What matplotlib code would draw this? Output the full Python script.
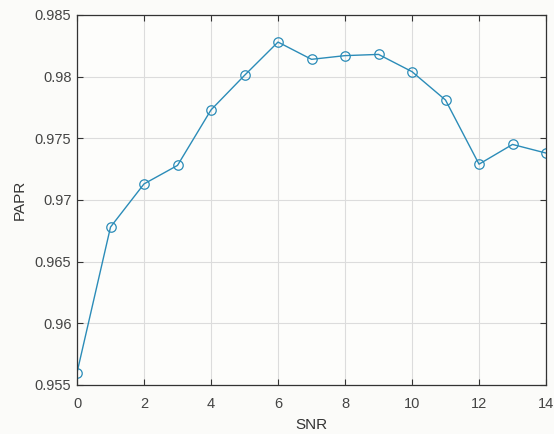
import matplotlib
matplotlib.use("Agg")
import matplotlib.pyplot as plt

snr = [0, 1, 2, 3, 4, 5, 6, 7, 8, 9, 10, 11, 12, 13, 14]
papr = [0.9560, 0.9678, 0.9713, 0.9728, 0.9773, 0.9801, 0.9828, 0.9814,
        0.9817, 0.9818, 0.9804, 0.9781, 0.9729, 0.9745, 0.9738]
xticks = [0, 2, 4, 6, 8, 10, 12, 14]
yticks = [0.955, 0.96, 0.965, 0.97, 0.975, 0.98, 0.985]
ytick_labels = ["0.955", "0.96", "0.965", "0.97", "0.975", "0.98", "0.985"]

plt.rcParams['font.family'] = ['Liberation Sans', 'DejaVu Sans']

fig = plt.figure(figsize=(5.54, 4.34), dpi=100)
fig.patch.set_facecolor('#fbfbf9')
ax = fig.add_axes([0.139, 0.113, 0.8466, 0.8526])
ax.set_facecolor('#fdfdfb')

line_color = '#2b8cb8'
ax.plot(snr, papr, color=line_color, linewidth=1.0, marker='o',
        markersize=6.8, markerfacecolor='none', markeredgecolor=line_color,
        markeredgewidth=0.9)

ax.set_xlim(0, 14)
ax.set_ylim(0.955, 0.985)
ax.set_xticks(xticks)
ax.set_yticks(yticks)
ax.set_yticklabels(ytick_labels)
ax.grid(True, color='#dcdcdc', linewidth=0.8)
ax.set_axisbelow(True)

ax.tick_params(direction='in', top=True, right=True, length=4, width=0.8,
               colors='#333333', labelsize=10.5, labelcolor='#444444')
ax.tick_params(axis='x', pad=9)
ax.tick_params(axis='y', pad=4)
for s in ax.spines.values():
    s.set_color('#333333')
    s.set_linewidth(0.9)

ax.set_xlabel('SNR', fontsize=11, color='#333333', labelpad=5)
ax.set_ylabel('PAPR', fontsize=11, color='#333333', labelpad=6)

fig.savefig('out.png', dpi=100, facecolor=fig.get_facecolor())
